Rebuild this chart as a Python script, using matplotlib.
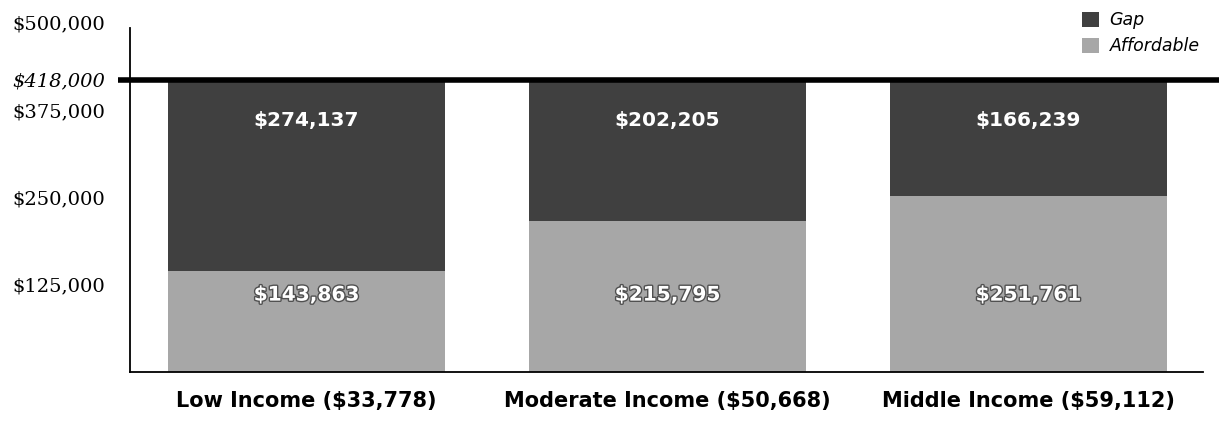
import matplotlib
matplotlib.use("Agg")
import matplotlib.pyplot as plt
import matplotlib.patheffects as pe
from matplotlib.patches import Patch

# ==================================================================================================================
# data
# ==================================================================================================================
categories = ["Low Income ($33,778)", "Moderate Income ($50,668)", "Middle Income ($59,112)"]
affordable = [143863, 215795, 251761]
gap = [274137, 202205, 166239]
median_price = 418000

ytick_values = [125000, 250000, 375000, 418000, 500000]
ytick_labels = ["$125,000", "$250,000", "$375,000", "$418,000", "$500,000"]

gap_color = "#404040"
affordable_color = "#a7a7a7"

# ==================================================================================================================
# plot
# ==================================================================================================================
fig = plt.figure(figsize=(12.19, 4.22), dpi=100)
ax = fig.add_axes([0.1066, 0.1185, 0.880, 0.8365])

x = list(range(len(categories)))
width = 0.767
ax.bar(x, affordable, width, color=affordable_color, label="Affordable")
ax.bar(x, gap, width, bottom=affordable, color=gap_color, label="Gap")

# the thick "torn" rule at the median price
ax.plot([-0.011, 1.015], [median_price, median_price], color="black", lw=4.0,
        transform=ax.get_yaxis_transform(), clip_on=False, solid_capstyle="butt")

# value labels (fixed heights inside the bars)
for xi, a, g in zip(x, affordable, gap):
    ax.text(xi, 360000, "${:,}".format(g), color="white", ha="center", va="center",
            fontsize=14.5, fontweight="bold", family="DejaVu Sans")
    ax.text(xi, 110000, "${:,}".format(a), color="white", ha="center", va="center",
            fontsize=14.5, fontweight="bold", family="DejaVu Sans",
            path_effects=[pe.withStroke(linewidth=2, foreground="#505050")])

ax.set_xlim(-0.489, 2.483)
ax.set_ylim(0, 505000)

ax.set_xticks(x)
ax.set_xticklabels(categories, fontsize=15, fontweight="bold", family="DejaVu Sans")
ax.set_yticks(ytick_values)
ax.set_yticklabels(ytick_labels, fontsize=14, family="DejaVu Serif")
for lbl in ax.get_yticklabels():
    if lbl.get_text() == "$418,000":
        lbl.set_fontstyle("italic")
ax.tick_params(axis="both", length=0)
ax.tick_params(axis="y", pad=18)
ax.tick_params(axis="x", pad=14)

ax.spines["top"].set_visible(False)
ax.spines["right"].set_visible(False)
ax.spines["left"].set_bounds(0, 492000)
ax.spines["left"].set_linewidth(1.3)
ax.spines["bottom"].set_linewidth(1.3)

handles = [Patch(facecolor=gap_color, label="Gap"), Patch(facecolor=affordable_color, label="Affordable")]
fig.legend(handles=handles, loc="upper right", bbox_to_anchor=(0.997, 1.01), frameon=False,
           handlelength=1.0, handleheight=1.0, handletextpad=0.6, labelspacing=0.45,
           prop={"style": "italic", "size": 12.5, "family": "DejaVu Sans"})

plt.savefig("out.png", dpi=100)
